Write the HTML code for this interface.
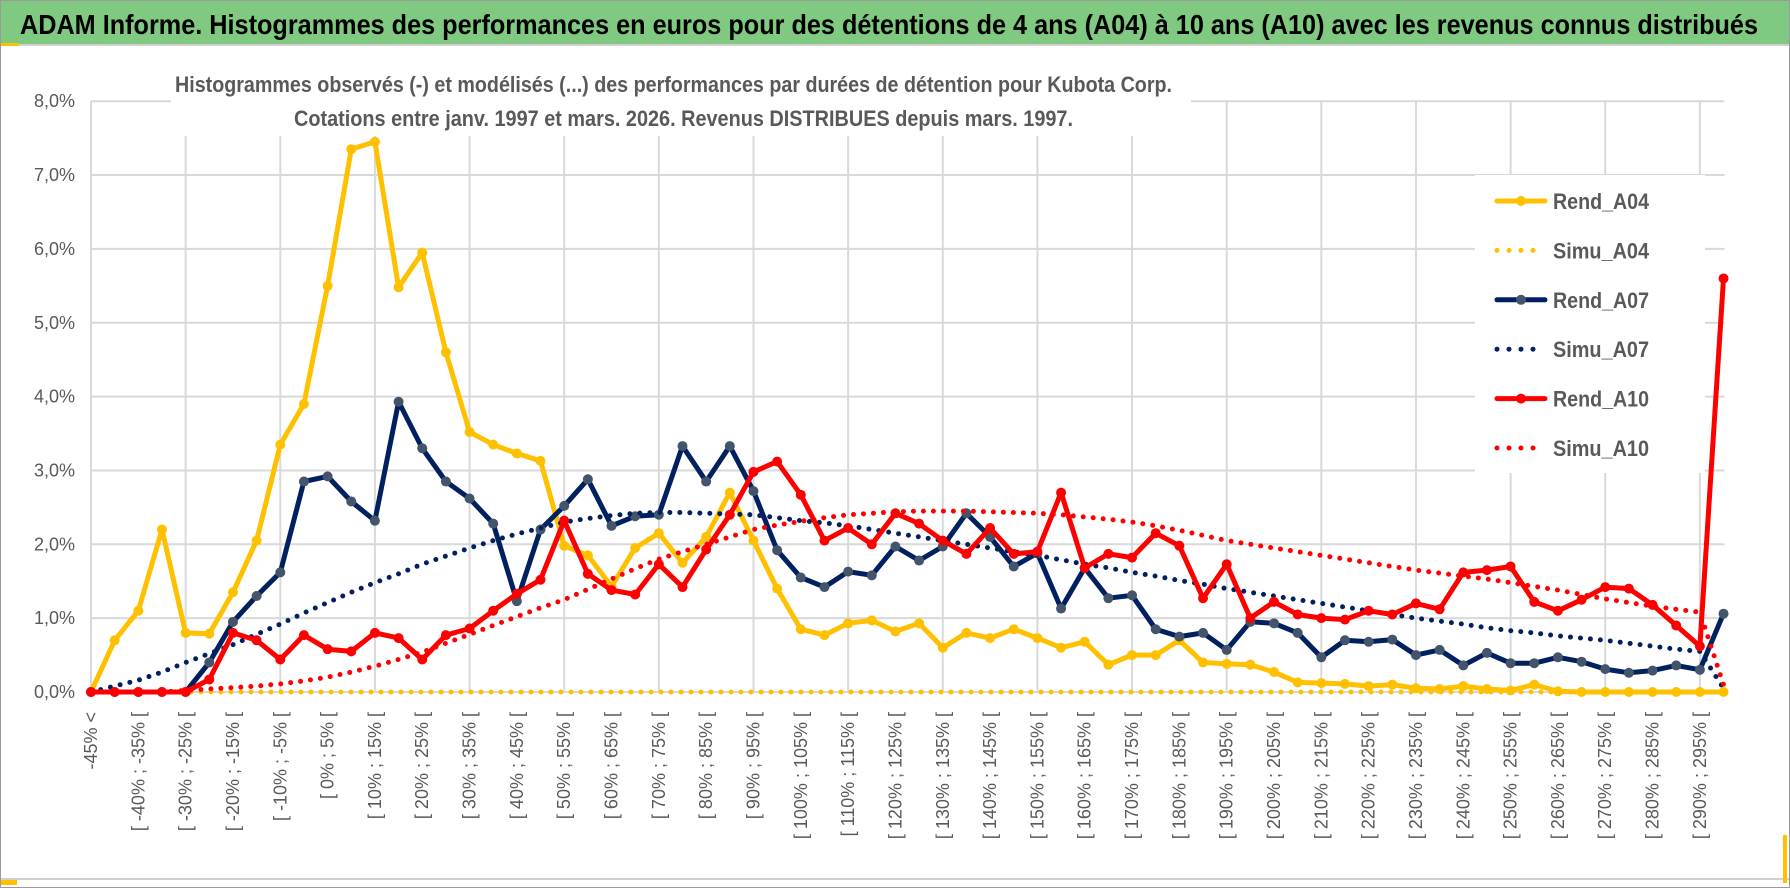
<!DOCTYPE html>
<html><head><meta charset="utf-8"><style>
html,body{margin:0;padding:0;background:#fff;}
svg{display:block;font-family:"Liberation Sans",sans-serif;}
</style></head><body>
<svg id="chart" width="1790" height="888" viewBox="0 0 1790 888" xmlns="http://www.w3.org/2000/svg">
<rect x="0.5" y="0.5" width="1789" height="887" fill="#fff" stroke="#9a9a9a"/>
<rect x="1" y="1" width="1788" height="43" fill="#80c980"/>
<line x1="1" y1="45" x2="1789" y2="45" stroke="#d0d0d0" stroke-width="2"/>
<rect x="1" y="43" width="18" height="3" fill="#ffc000"/>
<line x1="1" y1="879" x2="1789" y2="879" stroke="#d0d0d0" stroke-width="2"/>
<rect x="1" y="880" width="16" height="5" fill="#ffc000"/>
<rect x="1783" y="835" width="4" height="48" fill="#ffc000"/>
<text x="20" y="34" font-size="28" font-weight="bold" fill="#000" textLength="1738" lengthAdjust="spacingAndGlyphs">ADAM Informe. Histogrammes des performances en euros pour des détentions de 4 ans (A04) à 10 ans (A10) avec les revenus connus distribués</text>
<g id="grid"></g>
<g id="yaxis"></g>
<g id="xaxis"></g>
<rect x="171" y="60" width="1020" height="76" fill="#fff"/>
<text x="175" y="92" font-size="22" font-weight="bold" fill="#595959" textLength="997" lengthAdjust="spacingAndGlyphs">Histogrammes observés (-) et modélisés (...) des performances par durées de détention pour Kubota Corp.</text>
<text x="294" y="126" font-size="22" font-weight="bold" fill="#595959" textLength="779" lengthAdjust="spacingAndGlyphs">Cotations entre janv. 1997 et mars. 2026. Revenus DISTRIBUES depuis mars. 1997.</text>
<rect x="1475" y="175" width="230" height="298" fill="#fff"/>
<g id="series"></g>
<g id="legend"></g>
</svg>
<script>
const rendA04 = [0,0.7,1.1,2.2,0.8,0.79,1.35,2.05,3.35,3.9,5.5,7.35,7.45,5.48,5.95,4.6,3.52,3.35,3.23,3.13,1.98,1.85,1.43,1.95,2.15,1.75,2.1,2.7,2.05,1.4,0.85,0.77,0.93,0.97,0.82,0.93,0.6,0.8,0.73,0.85,0.73,0.6,0.68,0.37,0.5,0.5,0.7,0.4,0.38,0.37,0.27,0.13,0.12,0.11,0.08,0.1,0.05,0.04,0.08,0.04,0.02,0.1,0.01,0,0,0,0,0,0,0];
const simuA04 = [0,0,0,0,0,0,0,0,0,0,0,0,0,0,0,0,0,0,0,0,0,0,0,0,0,0,0,0,0,0,0,0,0,0,0,0,0,0,0,0,0,0,0,0,0,0,0,0,0,0,0,0,0,0,0,0,0,0,0,0,0,0,0,0,0,0,0,0,0,0];
const rendA07 = [0,0,0,0,0,0.4,0.95,1.3,1.62,2.85,2.92,2.58,2.32,3.93,3.3,2.85,2.62,2.28,1.23,2.2,2.52,2.88,2.25,2.38,2.4,3.33,2.85,3.33,2.72,1.92,1.55,1.42,1.63,1.58,1.97,1.78,1.97,2.42,2.1,1.7,1.88,1.13,1.68,1.27,1.31,0.85,0.75,0.8,0.57,0.95,0.93,0.8,0.47,0.7,0.68,0.71,0.5,0.57,0.36,0.53,0.39,0.39,0.47,0.41,0.31,0.26,0.29,0.36,0.3,1.06];
const simuA07 = [0,0.08,0.16,0.27,0.4,0.52,0.64,0.78,0.92,1.07,1.21,1.35,1.48,1.6,1.73,1.84,1.95,2.05,2.14,2.22,2.3,2.35,2.39,2.42,2.43,2.43,2.42,2.41,2.4,2.36,2.32,2.29,2.25,2.2,2.15,2.1,2.05,2.0,1.95,1.9,1.85,1.79,1.73,1.68,1.62,1.57,1.51,1.46,1.4,1.35,1.3,1.25,1.2,1.15,1.1,1.05,1.0,0.96,0.92,0.87,0.83,0.8,0.76,0.73,0.7,0.66,0.62,0.58,0.55,0.05];
const rendA10 = [0,0,0,0,0,0.17,0.8,0.7,0.44,0.77,0.58,0.55,0.8,0.73,0.44,0.77,0.86,1.1,1.33,1.52,2.32,1.6,1.38,1.32,1.73,1.42,1.93,2.4,2.98,3.12,2.67,2.05,2.22,2.0,2.42,2.28,2.05,1.87,2.22,1.87,1.9,2.7,1.68,1.87,1.82,2.15,1.98,1.27,1.73,1.0,1.22,1.05,1.0,0.98,1.1,1.05,1.2,1.12,1.62,1.65,1.7,1.22,1.1,1.25,1.42,1.4,1.18,0.9,0.62,5.6];
const simuA10 = [0,0,0,0,0.02,0.04,0.06,0.08,0.11,0.15,0.2,0.27,0.35,0.44,0.54,0.66,0.78,0.9,1.02,1.14,1.25,1.39,1.53,1.67,1.8,1.9,2.0,2.1,2.2,2.26,2.31,2.36,2.4,2.42,2.44,2.45,2.45,2.45,2.44,2.43,2.42,2.4,2.37,2.34,2.3,2.25,2.19,2.12,2.05,2.0,1.95,1.9,1.85,1.8,1.75,1.7,1.65,1.61,1.57,1.53,1.48,1.43,1.38,1.32,1.26,1.21,1.16,1.12,1.08,0.1];
const yTicks = [0,1,2,3,4,5,6,7,8];
const yTickLabels = ["0,0%","1,0%","2,0%","3,0%","4,0%","5,0%","6,0%","7,0%","8,0%"];
const categories = ["-45% <"];
for (let k = 1; k < 70; k++) categories.push("[ " + (-50 + 5 * k) + "% ; " + (-45 + 5 * k) + "% [");
const legendNames = ["Rend_A04","Simu_A04","Rend_A07","Simu_A07","Rend_A10","Simu_A10"];

const NS = "http://www.w3.org/2000/svg";
const X0 = 91, DX = 23.66, Y0 = 692, DY = 73.85;
function xs(i){ return X0 + i * DX; }
function ys(v){ return Y0 - v * DY; }
function mk(tag, attrs, parent){ const e = document.createElementNS(NS, tag); for (const k in attrs) e.setAttribute(k, attrs[k]); parent.appendChild(e); return e; }

const grid = document.getElementById('grid');
const yax = document.getElementById('yaxis');
const xax = document.getElementById('xaxis');
const plotRight = xs(categories.length - 1) + 1;
yTicks.forEach((t, j) => {
  const l = mk('line', {x1: X0, x2: plotRight, y1: ys(t), y2: ys(t), stroke: '#d9d9d9', 'stroke-width': 2}, grid);
  
  
  const tx = mk('text', {x: 75, y: ys(t) + 6, 'font-size': 18, fill: '#595959', 'text-anchor': 'end'}, yax);
  tx.textContent = yTickLabels[j];
  
  
});
for (let i = 0; i < categories.length; i += 4) {
  const l = mk('line', {x1: xs(i), x2: xs(i), y1: ys(yTicks[yTicks.length-1]), y2: Y0, stroke: '#d9d9d9', 'stroke-width': 2}, grid);
  
  
}
categories.forEach((c, i) => {
  if (i % 2 !== 0 || i === 69) return;
  const x = xs(i) + 6, y = 712;
  const tx = mk('text', {x: x, y: y, 'font-size': 18, fill: '#595959', 'text-anchor': 'end', transform: 'rotate(-90 ' + x + ' ' + y + ')'}, xax);
  tx.textContent = c;
  
  
});

const ser = document.getElementById('series');
function drawSeries(vals, color, dotted, markerColor, name){
  const g = mk('g', {}, ser);
  
  
  const pts = vals.map((v, i) => xs(i).toFixed(1) + ',' + ys(v).toFixed(1)).join(' ');
  const attrs = {points: pts, fill: 'none', stroke: color, 'stroke-width': 5, 'stroke-linejoin': 'round', 'stroke-linecap': 'round'};
  if (dotted) attrs['stroke-dasharray'] = '0 10';
  const pl = mk('polyline', attrs, g);
  
  
  if (!dotted) vals.forEach((v, i) => {
    const c = mk('circle', {cx: xs(i), cy: ys(v), r: 5, fill: markerColor}, g);
    
    
  });
}
drawSeries(rendA04, '#ffc000', false, '#ffc000', 'rend-a04');
drawSeries(simuA04, '#ffc000', true, null, 'simu-a04');
drawSeries(rendA07, '#002060', false, '#44546a', 'rend-a07');
drawSeries(simuA07, '#002060', true, null, 'simu-a07');
drawSeries(rendA10, '#ff0000', false, '#ff0000', 'rend-a10');
drawSeries(simuA10, '#ff0000', true, null, 'simu-a10');

const leg = document.getElementById('legend');
const legColors = ['#ffc000','#ffc000','#002060','#002060','#ff0000','#ff0000'];
legendNames.forEach((n, i) => {
  const y = 201 + i * 49.4;
  const g = mk('g', {}, leg);
  
  
  const dotted = i % 2 === 1;
  const la = {x1: 1497, x2: 1545, y1: y, y2: y, stroke: legColors[i], 'stroke-width': 5, 'stroke-linecap': 'round'};
  if (dotted) la['stroke-dasharray'] = '0 12';
  mk('line', la, g);
  if (!dotted) mk('circle', {cx: 1521, cy: y, r: 5, fill: i === 2 ? '#44546a' : legColors[i]}, g);
  const t = mk('text', {x: 1553, y: y + 8, 'font-size': 22, 'font-weight': 'bold', fill: '#595959', textLength: 96, lengthAdjust: 'spacingAndGlyphs'}, g);
  t.textContent = n;
});
</script>
</body></html>
